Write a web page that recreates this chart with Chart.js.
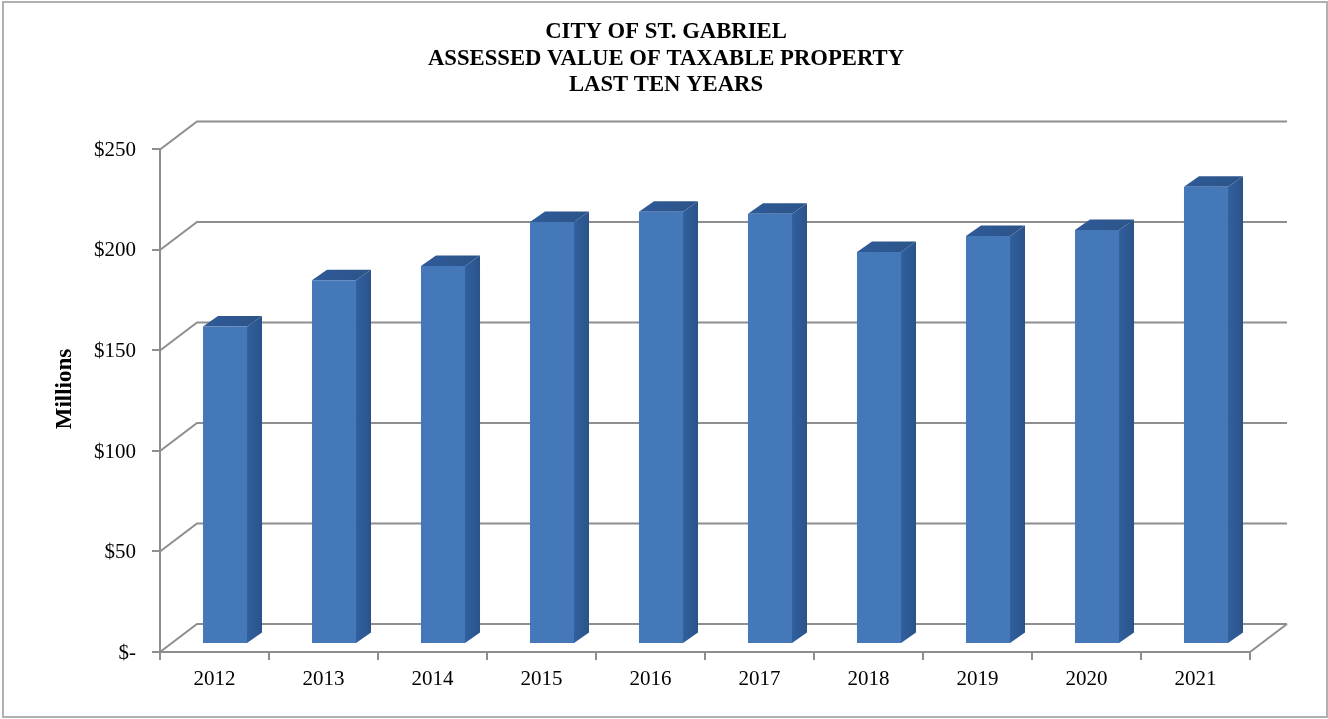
<!DOCTYPE html>
<html>
<head>
<meta charset="utf-8">
<style>
html, body { margin: 0; padding: 0; background: #fff; }
#wrap { width: 1328px; height: 719px; }
</style>
<script src="https://cdn.jsdelivr.net/npm/chart.js@4"></script>
</head>
<body>
<div id="wrap"><canvas id="chart" width="1328" height="719"></canvas></div>
<script>
const years = ['2012', '2013', '2014', '2015', '2016', '2017', '2018', '2019', '2020', '2021'];
const assessedValue = [158, 181, 188, 210, 215, 214, 195, 203, 206, 227.5];
const titleLines = ['CITY OF ST. GABRIEL', 'ASSESSED VALUE OF TAXABLE PROPERTY', 'LAST TEN YEARS'];
const yTitle = 'Millions';

const SERIF = '"Liberation Serif", serif';
const AXIS = '#8e8e8e';
// floor depth of the fake 3d box, and of each bar inside it
const wall = { dx: 37, dy: -28 };
const bar3d = { dx: 15, dy: -10.5, shiftX: 10.5, shiftY: -8 };

function shade(ctx, x0, x1, stops) {
    const g = ctx.createLinearGradient(x0, 0, x1, 0);
    stops.forEach((c, i) => g.addColorStop(i / (stops.length - 1), c));
    return g;
}

const box3d = {
    id: 'box3d',
    beforeDraw(chart) {
        const c = chart.ctx;
        c.save();
        c.fillStyle = '#fff';
        c.fillRect(0, 0, chart.width, chart.height);
        c.strokeStyle = '#b0b0b0';
        c.lineWidth = 2;
        c.strokeRect(3, 2, chart.width - 4, chart.height - 4);
        c.restore();
    },
    beforeDatasetsDraw(chart) {
        const c = chart.ctx, y = chart.scales.y, a = chart.chartArea;
        c.save();
        c.strokeStyle = AXIS;
        c.lineWidth = 2;
        y.ticks.forEach(t => {
            const py = y.getPixelForValue(t.value);
            c.beginPath();
            c.moveTo(a.left, py);
            c.lineTo(a.left + wall.dx, py + wall.dy);
            c.lineTo(a.right + wall.dx, py + wall.dy);
            c.stroke();
        });
        const base = y.getPixelForValue(0);
        c.beginPath();
        c.moveTo(a.right, base);
        c.lineTo(a.right + wall.dx, base + wall.dy);
        c.stroke();
        c.restore();
    },
    beforeDatasetDraw(chart, args) {
        const c = chart.ctx;
        c.save();
        c.translate(bar3d.shiftX, bar3d.shiftY);
        args.meta.data.forEach(b => {
            const l = b.x - b.width / 2, r = b.x + b.width / 2;
            // side
            c.fillStyle = shade(c, r, r + bar3d.dx, ['#30609f', '#2b5389']);
            c.beginPath();
            c.moveTo(r, b.y);
            c.lineTo(r + bar3d.dx, b.y + bar3d.dy);
            c.lineTo(r + bar3d.dx, b.base + bar3d.dy);
            c.lineTo(r, b.base);
            c.closePath();
            c.fill();
            // top
            c.fillStyle = shade(c, l, r + bar3d.dx, ['#2f5a98', '#2c5488']);
            c.beginPath();
            c.moveTo(l, b.y);
            c.lineTo(l + bar3d.dx, b.y + bar3d.dy);
            c.lineTo(r + bar3d.dx, b.y + bar3d.dy);
            c.lineTo(r, b.y);
            c.closePath();
            c.fill();
        });
    },
    afterDatasetDraw(chart) {
        chart.ctx.restore();
    },
    afterDraw(chart) {
        const c = chart.ctx;
        c.save();
        c.translate(65, 389);
        c.rotate(-Math.PI / 2);
        c.fillStyle = '#000';
        c.font = 'bold 23px ' + SERIF;
        c.textAlign = 'center';
        c.textBaseline = 'middle';
        c.fillText(yTitle, 0, 0);
        c.restore();
    }
};

new Chart(document.getElementById('chart'), {
    type: 'bar',
    plugins: [box3d],
    data: {
        labels: years,
        datasets: [{
            data: assessedValue,
            clip: false,
            barPercentage: 0.404,
            categoryPercentage: 1,
            borderWidth: 0,
            backgroundColor(ctx) {
                const el = ctx.element;
                if (!el || el.width === undefined) return '#4478b8';
                return shade(ctx.chart.ctx, el.x - el.width / 2, el.x + el.width / 2,
                    ['#3f74b6', '#4a80c4', '#467bbc', '#3e72b2']);
            }
        }]
    },
    options: {
        responsive: false,
        animation: false,
        layout: { padding: { left: 82, right: 78, top: 18, bottom: 0 } },
        plugins: {
            legend: { display: false },
            tooltip: { enabled: false },
            title: {
                display: true,
                text: titleLines,
                color: '#000',
                font: { family: SERIF, size: 22.7, weight: 'bold', lineHeight: 1.167 },
                padding: { top: 1, bottom: 51 }
            }
        },
        scales: {
            y: {
                min: 0,
                max: 250,
                afterFit(s) { s.width = 78; },
                ticks: {
                    stepSize: 50,
                    color: '#000',
                    padding: 16,
                    labelOffset: 1,
                    font: { family: SERIF, size: 21 },
                    callback: v => (v === 0 ? '$-' : '$' + v)
                },
                border: { color: AXIS, width: 2 },
                grid: { drawOnChartArea: false, color: AXIS, lineWidth: 2, tickLength: 8 }
            },
            x: {
                afterFit(s) { s.height = 67; },
                ticks: {
                    color: '#000',
                    padding: 7,
                    maxRotation: 0,
                    font: { family: SERIF, size: 21 }
                },
                border: { color: AXIS, width: 2 },
                grid: { drawOnChartArea: false, color: AXIS, lineWidth: 2, tickLength: 8 }
            }
        }
    }
});
</script>
</body>
</html>
